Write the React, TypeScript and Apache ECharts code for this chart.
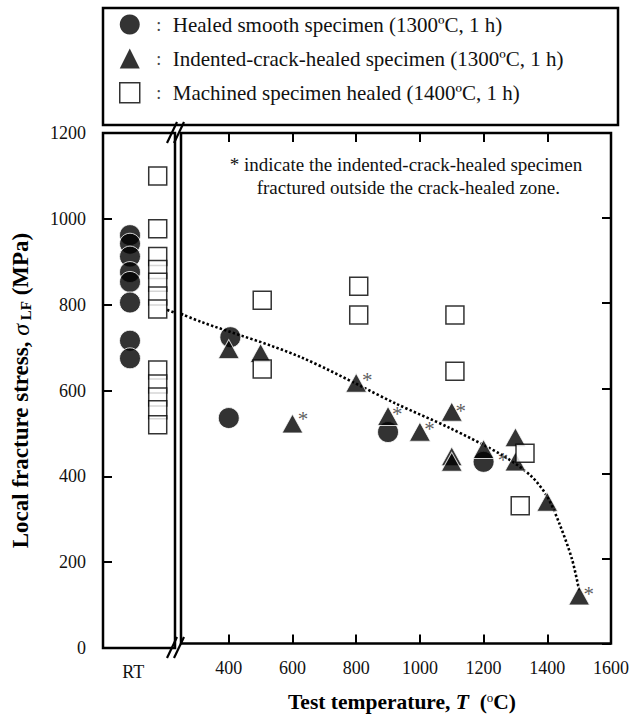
import { useEffect, useRef } from "react";
import * as echarts from "echarts";

const FONT = "'Liberation Serif', 'Times New Roman', serif";
const INK = "#111";

// axis ticks
const yTickInterval = 200;
const xTickValues = [400, 600, 800, 1000, 1200, 1400, 1600];
const xInnerTicks = [400, 600, 800, 1000, 1200, 1400];
const rtLabel = "RT";

const seriesNames = [
  "Healed smooth specimen (1300ºC, 1 h)",
  "Indented-crack-healed specimen (1300ºC, 1 h)",
  "Machined specimen healed (1400ºC, 1 h)",
];

// room-temperature results (MPa); RT panel positions are column slots
const rtSlot = { smooth: 0.375, machined: 0.76, label: 0.42 };
const rtSmooth = [962, 942, 912, 876, 853, 805, 716, 675];
const rtMachined = [1100, 977, 912, 882, 852, 820, 790, 648, 615, 585, 555, 520];

// high-temperature results: test temperature (ºC) and local fracture stress (MPa)
const smoothT = [405, 400, 900, 1200];
const smoothV = [720, 530, 497, 427];
const crackT = [400, 500, 600, 800, 900, 1000, 1100, 1100, 1100, 1200, 1300, 1300, 1400, 1500];
const crackV = [692, 683, 517, 613, 535, 498, 545, 440, 427, 457, 485, 428, 333, 113];
const machinedT = [505, 505, 808, 808, 1110, 1110, 1330, 1315];
const machinedV = [807, 645, 840, 772, 772, 640, 447, 324];

// "*" marks: fractured outside the crack-healed zone
const starT = [633, 835, 929, 1030, 1128, 1261, 1530];
const starV = [539, 632, 551, 516, 558, 442, 127];

// dotted trend curve: RT-panel piece (slot position) and temperature piece
const trendRtX = [0.89, 1.0];
const trendRtV = [788, 781];
const trendT = [250, 313, 620, 930, 1090, 1260, 1350, 1400, 1440, 1478, 1500];
const trendV = [775, 756, 675, 562, 508, 442, 393, 345, 278, 197, 125];

const zip = (a: number[], b: number[]) => a.map((v, i) => [v, b[i]]);

export default function App() {
  const ref = useRef<HTMLDivElement>(null);
  useEffect(() => {
    if (!ref.current) return;
    const chart = echarts.init(ref.current, undefined, { renderer: "svg" });
    const tickStyle = { color: "#000", width: 2 };
    const circleStyle = { color: "#000", borderColor: "#fff", borderWidth: 1 };
    const triStyle = { color: "#000", borderColor: "#fff", borderWidth: 1 };
    const sqStyle = { color: "#fff", borderColor: "#000", borderWidth: 1.5 };
    const dotted = { color: "#000", width: 2.6, type: [2.4, 2.2] };
    chart.setOption({
      animation: false,
      backgroundColor: "#fff",
      textStyle: { fontFamily: FONT },
      grid: [
        { left: 103, top: 133, width: 72, height: 515, show: true, borderColor: "#000", borderWidth: 2.5 },
        { left: 181, top: 133, width: 436, height: 515, show: true, borderColor: "#000", borderWidth: 2.5 },
      ],
      legend: {
        orient: "vertical",
        left: 114,
        top: 9,
        itemWidth: 20,
        itemHeight: 20,
        itemGap: 13,
        selectedMode: false,
        data: [
          { name: seriesNames[0], icon: "circle", itemStyle: { color: "#000", borderWidth: 0 } },
          { name: seriesNames[1], icon: "triangle", itemStyle: { color: "#000", borderWidth: 0 } },
          { name: seriesNames[2], icon: "rect", itemStyle: { color: "#fff", borderColor: "#000", borderWidth: 1.5 } },
        ],
        formatter: (n: string) => `{c|:}{t|${n}}`,
        textStyle: {
          fontFamily: FONT,
          fontSize: 21,
          color: INK,
          rich: {
            c: { width: 28, align: "center", fontSize: 18, fontFamily: FONT, color: "#444" },
            t: { fontSize: 21, fontFamily: FONT, color: INK },
          },
        },
      },
      xAxis: [
        {
          gridIndex: 0,
          type: "value",
          min: 0,
          max: 1,
          axisLine: { show: false },
          axisTick: { show: false },
          splitLine: { show: false },
          axisLabel: {
            customValues: [rtSlot.label],
            formatter: () => rtLabel,
            margin: 15,
            fontSize: 18,
            fontFamily: FONT,
            color: INK,
          },
        },
        {
          gridIndex: 1,
          type: "value",
          min: 250,
          max: 1600,
          axisLine: { show: false },
          splitLine: { show: false },
          axisTick: { inside: true, length: 9, customValues: xInnerTicks, lineStyle: tickStyle },
          axisLabel: {
            customValues: xTickValues,
            formatter: (v: number) => String(v),
            margin: 15,
            fontSize: 18,
            fontFamily: FONT,
            color: INK,
          },
          name: "{b|Test temperature, }{i|T}{b|  (}{s|o}{b|C)}",
          nameLocation: "middle",
          nameGap: 47,
          nameTextStyle: {
            padding: [0, 0, 0, 12],
            rich: {
              b: { fontSize: 21.5, fontWeight: "bold", fontFamily: FONT, color: "#000" },
              i: { fontSize: 21.5, fontWeight: "bold", fontStyle: "italic", fontFamily: FONT, color: "#000" },
              s: { fontSize: 13, fontFamily: FONT, color: "#000", padding: [0, 0, 10, 0] },
            },
          },
        },
        {
          gridIndex: 1,
          type: "value",
          position: "top",
          min: 250,
          max: 1600,
          axisLine: { show: false },
          splitLine: { show: false },
          axisTick: { inside: true, length: 9, customValues: xInnerTicks, lineStyle: tickStyle },
          axisLabel: { show: false },
        },
      ],
      yAxis: [
        {
          gridIndex: 0,
          type: "value",
          min: 0,
          max: 1200,
          interval: yTickInterval,
          axisLine: { show: false },
          splitLine: { show: false },
          axisTick: { inside: true, length: 9, lineStyle: tickStyle },
          axisLabel: {
            formatter: (v: number) => String(v),
            margin: 17,
            fontSize: 18,
            fontFamily: FONT,
            color: INK,
          },
          name: "{b|Local fracture stress, }{i|σ}{s| LF}{b| (MPa)}",
          nameLocation: "middle",
          nameRotate: 90,
          nameGap: 70,
          nameTextStyle: {
            rich: {
              b: { fontSize: 23, fontWeight: "bold", fontFamily: FONT, color: "#000" },
              i: { fontSize: 24, fontStyle: "italic", fontFamily: FONT, color: "#000" },
              s: { fontSize: 15, fontWeight: "bold", fontFamily: FONT, color: "#000", padding: [10, 0, 0, 0] },
            },
          },
        },
        {
          gridIndex: 1,
          type: "value",
          position: "right",
          min: 0,
          max: 1200,
          interval: yTickInterval,
          axisLine: { show: false },
          splitLine: { show: false },
          axisTick: { inside: true, length: 9, lineStyle: tickStyle },
          axisLabel: { show: false },
        },
      ],
      graphic: [
        {
          type: "rect",
          shape: { x: 103, y: 8, width: 515, height: 117 },
          style: { fill: "none", stroke: "#000", lineWidth: 2.5 },
          silent: true,
        },
        {
          type: "text",
          x: 406,
          y: 153,
          style: {
            text: "* indicate the indented-crack-healed specimen\n fractured outside the crack-healed zone.",
            fill: INK,
            font: `19px ${FONT}`,
            lineHeight: 23,
            align: "center",
            verticalAlign: "top",
          },
          silent: true,
        },
        // axis break marks
        { type: "line", shape: { x1: 167, y1: 143, x2: 177, y2: 122 }, style: { stroke: "#000", lineWidth: 2.2 } },
        { type: "line", shape: { x1: 174, y1: 143, x2: 184, y2: 122 }, style: { stroke: "#000", lineWidth: 2.2 } },
        { type: "line", shape: { x1: 167, y1: 658, x2: 177, y2: 637 }, style: { stroke: "#000", lineWidth: 2.2 } },
        { type: "line", shape: { x1: 174, y1: 658, x2: 184, y2: 637 }, style: { stroke: "#000", lineWidth: 2.2 } },
      ],
      series: [
        {
          type: "line",
          name: "trend-rt",
          xAxisIndex: 0,
          yAxisIndex: 0,
          data: zip(trendRtX, trendRtV),
          showSymbol: false,
          z: 1,
          lineStyle: dotted,
        },
        {
          type: "line",
          name: "trend",
          xAxisIndex: 1,
          yAxisIndex: 1,
          data: zip(trendT, trendV),
          smooth: 0.3,
          showSymbol: false,
          z: 1,
          lineStyle: dotted,
        },
        {
          type: "scatter",
          name: seriesNames[0],
          xAxisIndex: 0,
          yAxisIndex: 0,
          symbol: "circle",
          symbolSize: 21,
          itemStyle: circleStyle,
          data: rtSmooth.map((v) => [rtSlot.smooth, v]),
          z: 3,
        },
        {
          type: "scatter",
          name: seriesNames[2],
          xAxisIndex: 0,
          yAxisIndex: 0,
          symbol: "rect",
          symbolSize: 18,
          itemStyle: sqStyle,
          data: rtMachined.map((v) => [rtSlot.machined, v]),
          z: 3,
        },
        {
          type: "scatter",
          name: seriesNames[0],
          xAxisIndex: 1,
          yAxisIndex: 1,
          symbol: "circle",
          symbolSize: 21,
          itemStyle: circleStyle,
          data: zip(smoothT, smoothV),
          z: 3,
        },
        {
          type: "scatter",
          name: seriesNames[1],
          xAxisIndex: 1,
          yAxisIndex: 1,
          symbol: "triangle",
          symbolSize: [21, 19],
          itemStyle: triStyle,
          data: zip(crackT, crackV),
          z: 4,
        },
        {
          type: "scatter",
          name: seriesNames[2],
          xAxisIndex: 1,
          yAxisIndex: 1,
          symbol: "rect",
          symbolSize: 18,
          itemStyle: sqStyle,
          data: zip(machinedT, machinedV),
          z: 5,
        },
        {
          type: "scatter",
          name: "outside",
          xAxisIndex: 1,
          yAxisIndex: 1,
          symbolSize: 1,
          itemStyle: { color: "transparent" },
          data: zip(starT, starV),
          z: 6,
          label: {
            show: true,
            position: "inside",
            formatter: "*",
            fontSize: 21,
            fontFamily: FONT,
            color: "#333",
            offset: [0, 5],
          },
        },
      ],
    });
    return () => chart.dispose();
  }, []);
  return (
    <div
      ref={ref}
      style={{ position: "fixed", left: 0, top: 0, width: 632, height: 718, background: "#fff" }}
    />
  );
}
